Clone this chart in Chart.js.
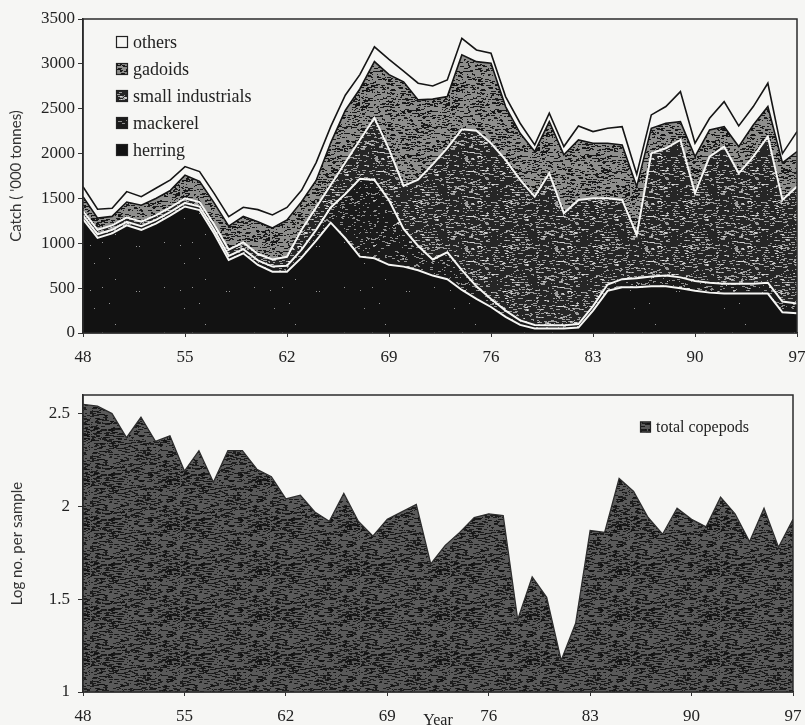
<!DOCTYPE html>
<html lang="en">
<head>
<meta charset="utf-8">
<title>North Sea catch and total copepods, 1948-97</title>
<script src="https://cdn.jsdelivr.net/npm/chart.js@4.4.1/dist/chart.umd.min.js"></script>
<style>
    html, body { margin: 0; padding: 0; background: #f6f6f4; }
    #wrap { position: relative; width: 805px; height: 725px; overflow: hidden; }
    canvas { position: absolute; left: 0; }
    #catchChart { top: 0; }
    #copepodChart { top: 370px; }
</style>
</head>
<body>
<div id="wrap">
    <canvas id="catchChart" width="805" height="370"></canvas>
    <canvas id="copepodChart" width="805" height="355"></canvas>
</div>
<script>
// years 1948-1997 (two digit labels as in the figure)
const years = [48, 49, 50, 51, 52, 53, 54, 55, 56, 57,
               58, 59, 60, 61, 62, 63, 64, 65, 66, 67,
               68, 69, 70, 71, 72, 73, 74, 75, 76, 77,
               78, 79, 80, 81, 82, 83, 84, 85, 86, 87,
               88, 89, 90, 91, 92, 93, 94, 95, 96, 97];

// catch per group, '000 tonnes (stacked bottom to top)
const herring = [1270, 1060, 1110, 1200, 1150, 1220, 1310, 1410, 1370, 1110,
                 814, 888, 758, 684, 684, 840, 1030, 1230, 1056, 851,
                 833, 760, 740, 700, 640, 600, 480, 380, 290, 180,
                 90, 50, 50, 50, 60, 250, 470, 510, 510, 520,
                 520, 500, 470, 450, 440, 440, 440, 440, 230, 220];
const mackerel = [40, 40, 40, 40, 40, 40, 40, 40, 40, 40,
                  46, 47, 52, 56, 66, 90, 120, 170, 494, 869,
                  873, 720, 420, 270, 180, 300, 220, 140, 90, 70,
                  50, 40, 35, 35, 40, 50, 70, 90, 100, 110,
                  120, 120, 110, 110, 110, 110, 110, 120, 120, 110];
const smallIndustrials = [50, 50, 50, 50, 50, 50, 50, 50, 50, 60,
                          70, 75, 70, 80, 100, 220, 250, 250, 350, 432,
                          691, 570, 480, 740, 1060, 1160, 1570, 1735, 1735, 1680,
                          1566, 1430, 1695, 1249, 1383, 1201, 961, 883, 483, 1373,
                          1419, 1532, 977, 1406, 1528, 1230, 1416, 1629, 1133, 1302];
const gadoids = [160, 130, 100, 170, 185, 190, 190, 260, 230, 240,
                 260, 290, 360, 350, 410, 314, 300, 470, 580, 568,
                 628, 830, 1160, 888, 727, 575, 830, 770, 892, 594,
                 520, 502, 576, 651, 669, 614, 614, 613, 539, 279,
                 279, 204, 409, 297, 222, 298, 353, 335, 413, 390];
const others = [111, 99, 90, 116, 95, 113, 116, 95, 109, 107,
                107, 101, 135, 146, 140, 126, 200, 180, 170, 160,
                165, 170, 120, 186, 147, 186, 185, 130, 111, 111,
                112, 74, 93, 93, 156, 130, 167, 204, 138, 149,
                186, 335, 149, 131, 279, 230, 205, 260, 104, 223];

// log number per sample
const copepods = [2.55, 2.54, 2.50, 2.37, 2.48, 2.35, 2.38, 2.19, 2.30, 2.13,
                  2.30, 2.30, 2.20, 2.16, 2.04, 2.06, 1.97, 1.92, 2.07, 1.92,
                  1.84, 1.93, 1.97, 2.01, 1.69, 1.79, 1.86, 1.94, 1.96, 1.95,
                  1.39, 1.62, 1.51, 1.17, 1.37, 1.87, 1.86, 2.15, 2.08, 1.94,
                  1.85, 1.99, 1.93, 1.89, 2.05, 1.96, 1.81, 1.99, 1.78, 1.93];

const paper = '#f6f6f4';
const ink = '#222222';
const serif = '"Liberation Serif", "DejaVu Serif", serif';
const sans = 'Lato, "Open Sans", sans-serif';

// printed stipple look: short horizontal dashes on a base tone
function stipple(base, speck, count, dashMax, seed) {
    const c = document.createElement('canvas');
    c.width = 90; c.height = 45;
    const g = c.getContext('2d');
    g.fillStyle = base;
    g.fillRect(0, 0, c.width, c.height);
    g.fillStyle = speck;
    let s = seed;
    const next = () => { s = (s * 16807) % 2147483647; return s / 2147483647; };
    for (let i = 0; i < count; i++) {
        g.fillRect(Math.floor(next() * c.width), Math.floor(next() * c.height), 1 + Math.floor(next() * dashMax), 1);
    }
    return g.createPattern(c, 'repeat');
}

const fills = {
    herring: stipple('#121212', 'rgba(255,255,255,0.55)', 8, 1, 11),
    mackerel: stipple('#1b1b1b', 'rgba(255,255,255,0.5)', 260, 3, 23),
    smallIndustrials: stipple('#262626', 'rgba(255,255,255,0.55)', 420, 4, 37),
    gadoids: stipple('#8e8e8c', 'rgba(15,15,15,0.9)', 600, 4, 41),
    others: paper,
    copepods: stipple('#5a5a5a', 'rgba(15,15,15,0.8)', 650, 5, 53)
};

function layer(label, values, fill, line, width, fillMode) {
    return {
        label: label,
        data: values,
        backgroundColor: fill,
        borderColor: line,
        borderWidth: width,
        fill: fillMode,
        pointRadius: 0,
        tension: 0
    };
}

// box round each plot, as in the printed figure
const framePlugin = {
    id: 'frame',
    afterDatasetsDraw(chart) {
        const { ctx, chartArea: a } = chart;
        ctx.save();
        ctx.strokeStyle = '#2b2b2b';
        ctx.lineWidth = 1.5;
        ctx.strokeRect(a.left, a.top, a.right - a.left, a.bottom - a.top);
        ctx.restore();
    }
};

// legend drawn inside the plot area, boxes on the left
function boxLegend(dx, dy, gap, fontSize, box) {
    return {
        id: 'boxLegend',
        afterDraw(chart) {
            const { ctx, chartArea: a } = chart;
            const items = chart.data.datasets.slice().reverse();
            ctx.save();
            ctx.font = fontSize + 'px ' + serif;
            ctx.textBaseline = 'middle';
            items.forEach((ds, i) => {
                const x = a.left + dx;
                const y = a.top + dy + i * gap;
                ctx.fillStyle = ds.backgroundColor;
                ctx.fillRect(x, y - box / 2, box, box);
                ctx.strokeStyle = ink;
                ctx.lineWidth = 1.2;
                ctx.strokeRect(x + 0.5, y - box / 2 + 0.5, box - 1, box - 1);
                ctx.fillStyle = ink;
                ctx.fillText(ds.label, x + box + 5, y + 1);
            });
            ctx.restore();
        }
    };
}

const tickFont = { family: serif, size: 17 };
const plain = v => v;

function xAxis(height, withTitle) {
    return {
        type: 'linear',
        min: 48,
        max: 97,
        ticks: { stepSize: 7, font: tickFont, color: ink, padding: 10, callback: plain },
        grid: { drawOnChartArea: false, tickLength: 4, color: '#333' },
        border: { color: '#2b2b2b', width: 1.5 },
        title: withTitle
            ? { display: true, text: 'Year', font: { family: serif, size: 16 }, color: ink, padding: { top: 0, bottom: -5 } }
            : { display: false },
        afterFit(scale) {
            scale.height = height;
            scale.paddingLeft = 0;
            scale.paddingRight = 0;
        }
    };
}

// top: catch by group
new Chart(document.getElementById('catchChart'), {
    type: 'line',
    data: {
        labels: years,
        datasets: [
            layer('herring', herring, fills.herring, paper, 2, 'origin'),
            layer('mackerel', mackerel, fills.mackerel, paper, 2, '-1'),
            layer('small industrials', smallIndustrials, fills.smallIndustrials, paper, 2, '-1'),
            layer('gadoids', gadoids, fills.gadoids, '#151515', 1.6, '-1'),
            layer('others', others, fills.others, '#151515', 1.6, '-1')
        ]
    },
    options: {
        responsive: false,
        animation: false,
        layout: { padding: { top: 19, right: 8, left: 0, bottom: 0 } },
        plugins: { legend: { display: false }, tooltip: { enabled: false } },
        scales: {
            x: xAxis(37, false),
            y: {
                stacked: true,
                min: 0,
                max: 3500,
                ticks: { stepSize: 500, font: tickFont, color: ink, padding: 3, callback: plain },
                grid: { drawOnChartArea: false, tickLength: 5, color: '#333' },
                border: { color: '#2b2b2b', width: 1.5 },
                title: { display: true, text: "Catch ( '000 tonnes)", font: { family: sans, size: 15 }, color: '#333', padding: { top: 7, bottom: 0 } },
                afterFit(scale) { scale.width = 83; }
            }
        }
    },
    plugins: [framePlugin, boxLegend(33, 23, 27, 18, 12)]
});

// bottom: total copepods
new Chart(document.getElementById('copepodChart'), {
    type: 'line',
    data: {
        labels: years,
        datasets: [
            layer('total copepods', copepods, fills.copepods, '#2e2e2e', 1.3, 'start')
        ]
    },
    options: {
        responsive: false,
        animation: false,
        layout: { padding: { top: 25, right: 12, left: 0, bottom: 0 } },
        plugins: { legend: { display: false }, tooltip: { enabled: false } },
        scales: {
            x: xAxis(33, true),
            y: {
                min: 1,
                max: 2.6,
                ticks: { stepSize: 0.5, includeBounds: false, font: tickFont, color: ink, padding: 8, callback: plain },
                grid: { drawOnChartArea: false, tickLength: 5, color: '#333' },
                border: { color: '#2b2b2b', width: 1.5 },
                title: { display: true, text: 'Log no. per sample', font: { family: sans, size: 15 }, color: '#333', padding: { top: 8, bottom: 0 } },
                afterFit(scale) { scale.width = 83; }
            }
        }
    },
    plugins: [framePlugin, boxLegend(557, 32, 0, 16, 11)]
});
</script>
</body>
</html>
